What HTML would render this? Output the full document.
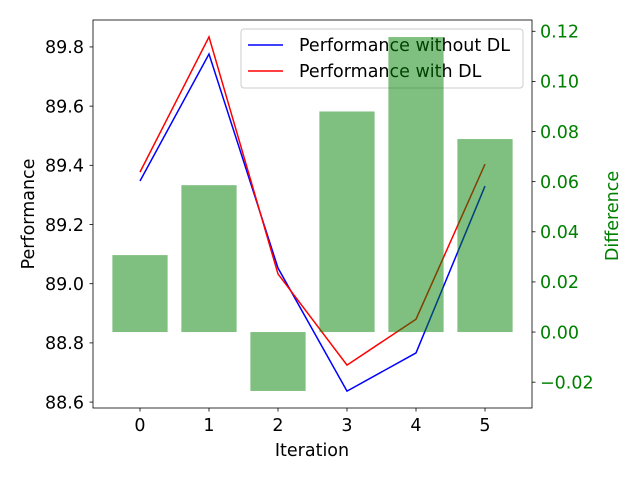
<!DOCTYPE html>
<html><head><meta charset="utf-8"><style>
body{margin:0;background:#fff}
svg text{font-family:"DejaVu Sans","Liberation Sans",sans-serif}
</style></head><body>
<svg id="c" width="640" height="480" xmlns="http://www.w3.org/2000/svg"></svg>
<script>
const categories=[0,1,2,3,4,5];
const perfWithout=[89.347,89.776,89.053,88.637,88.766,89.33];
const perfWith=[89.377,89.834,89.033,88.725,88.88,89.404];
const difference=[0.0307,0.0586,-0.0235,0.088,0.1177,0.077];
const leftTicks=[88.6,88.8,89.0,89.2,89.4,89.6,89.8];
const rightTicks=[-0.02,0,0.02,0.04,0.06,0.08,0.10,0.12];

const svg=document.getElementById('c');
const NS='http://www.w3.org/2000/svg';
const L=93,R=532,T=20,B=408,FS=17.5;
const x=v=>140+(v-0)*69;
const yL=v=>T+(89.891-v)/(89.891-88.580)*(B-T);
const yR=v=>T+(0.1245-v)/(0.1245+0.0303)*(B-T);
function mk(tag,a,txt){const e=document.createElementNS(NS,tag);for(const k in a)e.setAttribute(k,a[k]);if(txt!==undefined)e.textContent=txt;svg.appendChild(e);return e;}

function line(data,color,name){
  const p=mk('polyline',{points:data.map((v,i)=>x(categories[i])+','+yL(v)).join(' '),fill:'none',stroke:color,'stroke-width':1.5});
  
  
}
line(perfWithout,'#0000ff','line-without-dl');
line(perfWith,'#ff0000','line-with-dl');
// legend (belongs to primary axes, beneath bars)
const lg=mk('rect',{x:241,y:29,width:282,height:59,rx:3,fill:'#fff','fill-opacity':0.8,stroke:'#ccc'});

mk('line',{x1:248,x2:283,y1:45,y2:45,stroke:'#0000ff','stroke-width':1.5});
let t=mk('text',{x:299,y:51,'font-size':FS},'Performance without DL');

mk('line',{x1:248,x2:283,y1:71,y2:71,stroke:'#ff0000','stroke-width':1.5});
t=mk('text',{x:299,y:77,'font-size':FS},'Performance with DL');


difference.forEach((d,i)=>{
  const y0=yR(0),y1=yR(d);
  const r=mk('rect',{x:x(categories[i])-0.4*69,y:Math.min(y0,y1),width:0.8*69,height:Math.abs(y1-y0),fill:'#008000','fill-opacity':0.5});
  
  
});
const f=mk('rect',{x:L,y:T,width:R-L,height:B-T,fill:'none',stroke:'#000','stroke-width':0.8});


categories.forEach(c=>{
  mk('line',{x1:x(c),x2:x(c),y1:B,y2:B+3.5,stroke:'#000','stroke-width':0.8});
  const t=mk('text',{x:x(c),y:B+23,'font-size':FS,'text-anchor':'middle'},String(c));
  
  
});
leftTicks.forEach(v=>{
  mk('line',{x1:L,x2:L-3.5,y1:yL(v),y2:yL(v),stroke:'#000','stroke-width':0.8});
  const t=mk('text',{x:L-9,y:yL(v)+6.3,'font-size':FS,'text-anchor':'end'},v.toFixed(1));
  
  
});
rightTicks.forEach(v=>{
  mk('line',{x1:R,x2:R+3.5,y1:yR(v),y2:yR(v),stroke:'#000','stroke-width':0.8});
  const t=mk('text',{x:R+8,y:yR(v)+6.3,'font-size':FS,fill:'#008000'},(v<0?'\u2212':'')+Math.abs(v).toFixed(2));
  
  
});
t=mk('text',{x:312,y:456,'font-size':FS,'text-anchor':'middle'},'Iteration');

t=mk('text',{x:34,y:214,'font-size':FS,'text-anchor':'middle',transform:'rotate(-90 34 214)'},'Performance');

t=mk('text',{x:618,y:216,'font-size':FS,'text-anchor':'middle',fill:'#008000',transform:'rotate(-90 618 216)'},'Difference');

</script>
</body></html>
